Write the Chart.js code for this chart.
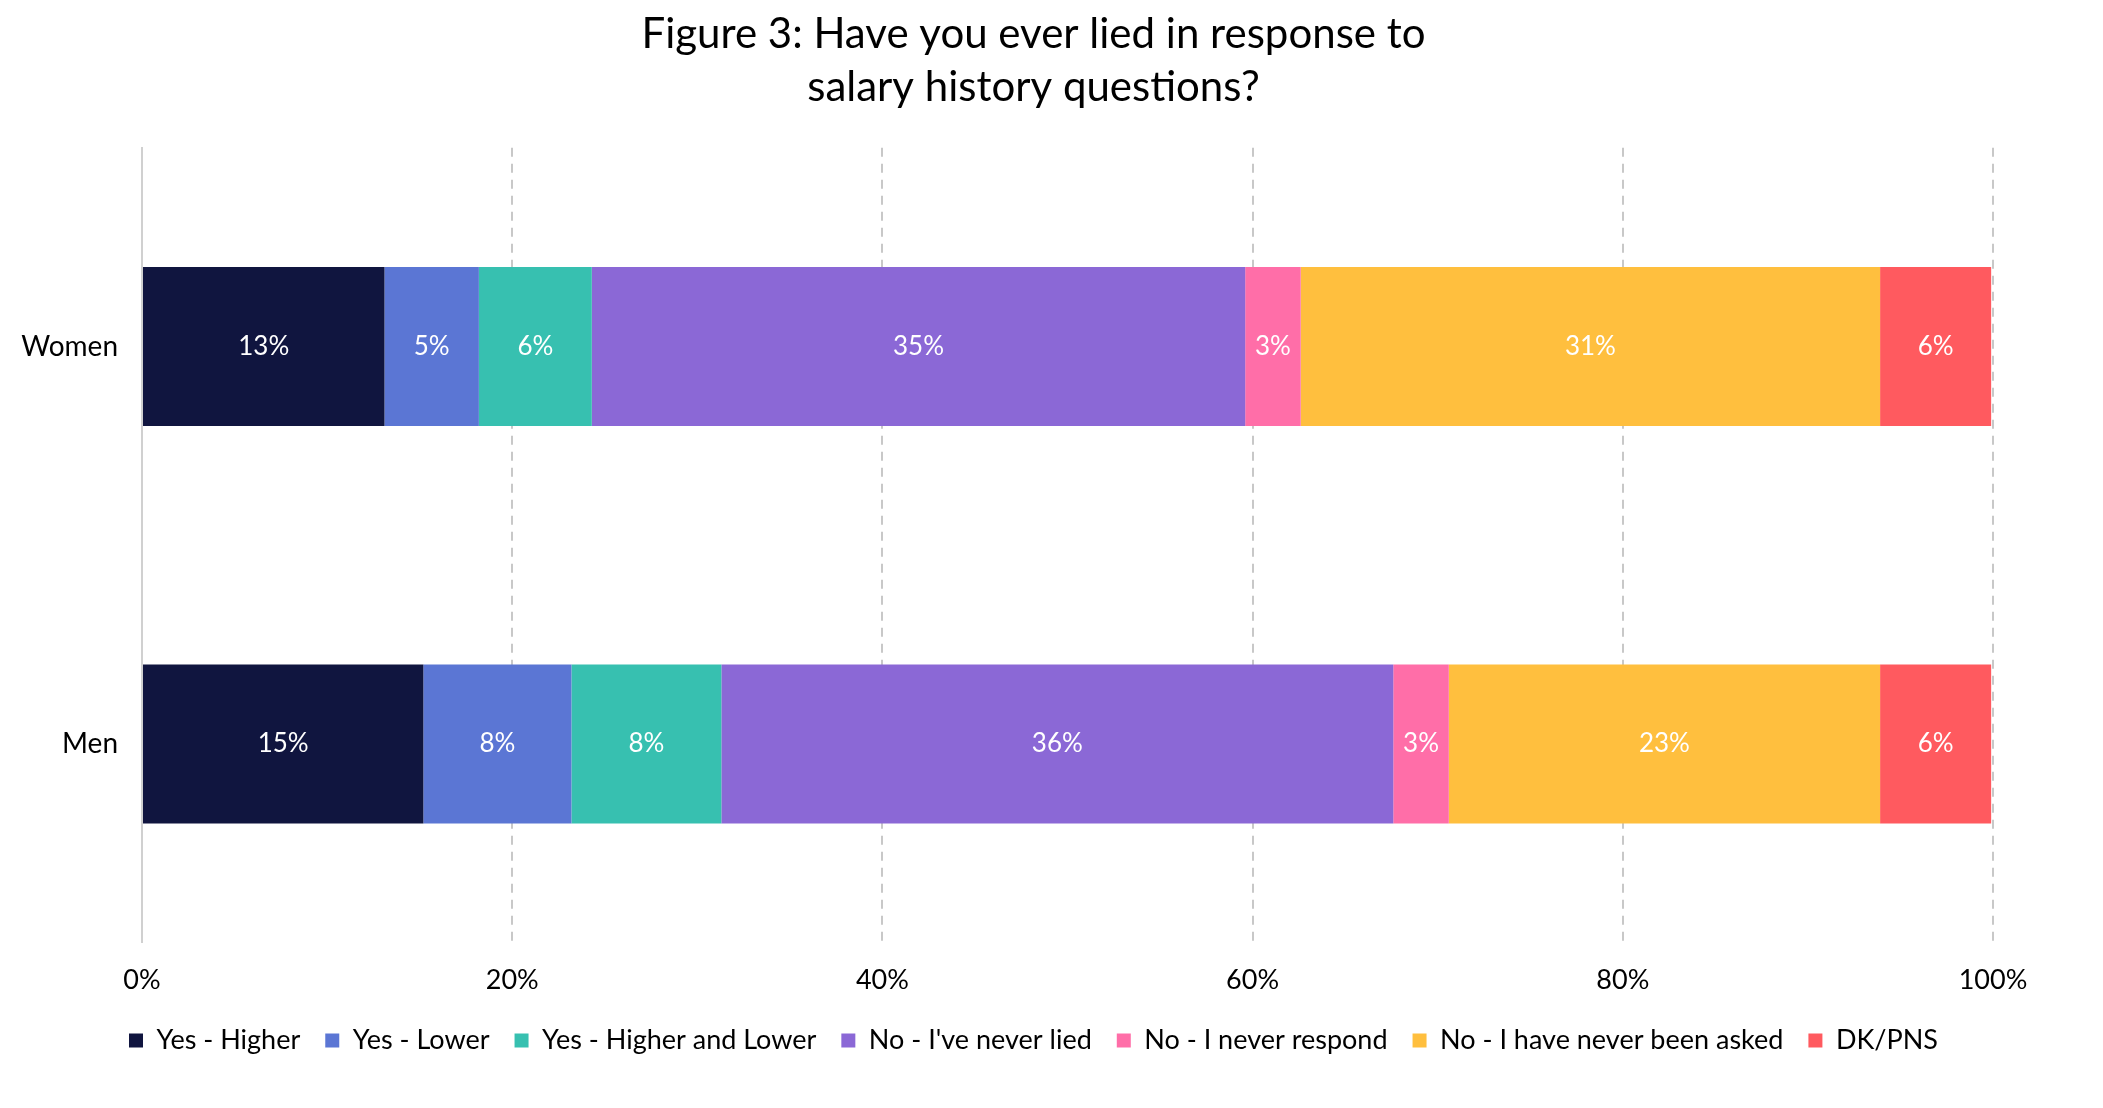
<!DOCTYPE html>
<html>
<head>
<meta charset="utf-8">
<script src="https://cdn.jsdelivr.net/npm/chart.js@4.4.0/dist/chart.umd.min.js"></script>
<style>
    html, body { margin: 0; padding: 0; background: #ffffff; }
    #wrap { width: 2103px; height: 1108px; }
</style>
</head>
<body>
<div id="wrap"><canvas id="salaryChart"></canvas></div>
<script>
var categories = ['Women', 'Men'];
var seriesNames = ['Yes - Higher', 'Yes - Lower', 'Yes - Higher and Lower', "No - I've never lied", 'No - I never respond', 'No - I have never been asked', 'DK/PNS'];
var seriesColors = ['#10153f', '#5b76d4', '#37c0b0', '#8b68d6', '#ff6ea8', '#ffbf3e', '#ff5a5f'];

// percent per series, [Women, Men]
var yesHigher = [13.1, 15.2];
var yesLower = [5.1, 8.0];
var yesBoth = [6.1, 8.1];
var neverLied = [35.3, 36.3];
var neverRespond = [3.0, 3.0];
var neverAsked = [31.3, 23.3];
var dkPns = [6.0, 6.0];
var seriesValues = [yesHigher, yesLower, yesBoth, neverLied, neverRespond, neverAsked, dkPns];

var xTicks = [0, 20, 40, 60, 80, 100];

var fontFamily = 'Lato, "Open Sans", sans-serif';

// draws the white % labels in the middle of every segment
var segmentLabels = {
    id: 'segmentLabels',
    afterDatasetsDraw: function(chart) {
        var ctx = chart.ctx;
        ctx.save();
        ctx.fillStyle = '#ffffff';
        ctx.font = '26px ' + fontFamily;
        ctx.textAlign = 'center';
        ctx.textBaseline = 'middle';
        chart.data.datasets.forEach(function(ds, i) {
            var meta = chart.getDatasetMeta(i);
            meta.data.forEach(function(bar, j) {
                var cx = (bar.x + bar.base) / 2;
                ctx.fillText(Math.round(ds.data[j]) + '%', cx, bar.y);
            });
        });
        ctx.restore();
    }
};

function buildChart() {
    var datasets = [];
    for (var i = 0; i < seriesNames.length; i++) {
        datasets.push({
            label: seriesNames[i],
            data: seriesValues[i],
            backgroundColor: seriesColors[i],
            borderWidth: 0,
            categoryPercentage: 0.8,
            barPercentage: 0.5
        });
    }

    var ctx = document.getElementById('salaryChart').getContext('2d');
    return new Chart(ctx, {
        type: 'bar',
        data: {
            labels: categories,
            datasets: datasets
        },
        plugins: [segmentLabels],
        options: {
            indexAxis: 'y',
            responsive: true,
            maintainAspectRatio: false,
            animation: false,
            devicePixelRatio: 1,
            layout: {
                padding: { left: 74, right: 110, top: 8, bottom: 44 }
            },
            scales: {
                x: {
                    stacked: true,
                    min: 0,
                    max: 100,
                    afterBuildTicks: function(axis) {
                        axis.ticks = xTicks.map(function(v) { return { value: v }; });
                    },
                    // labels keep their place, the axis just gives some room back
                    afterFit: function(axis) {
                        axis.height -= 15;
                        axis._computeLabelArea = function() { return undefined; };
                    },
                    grid: {
                        color: function(c) { return c.tick && c.tick.value === 0 ? 'rgba(0,0,0,0)' : '#c8c8c8'; },
                        lineWidth: 2,
                        drawTicks: false
                    },
                    border: { display: false, dash: [9, 7] },
                    ticks: {
                        color: '#000000',
                        font: { family: fontFamily, size: 27 },
                        padding: 21,
                        callback: function(v) { return v + '%'; }
                    }
                },
                y: {
                    stacked: true,
                    // narrow axis box so the title and legend centre like the original;
                    // labels are allowed to spill out to the left
                    afterFit: function(axis) {
                        axis.width = 68;
                        axis._computeLabelArea = function() { return undefined; };
                    },
                    grid: { display: false, drawTicks: false },
                    border: { display: true, color: '#d0d0d0', width: 2 },
                    ticks: {
                        color: '#000000',
                        font: { family: fontFamily, size: 28 },
                        padding: 24
                    }
                }
            },
            plugins: {
                title: {
                    display: true,
                    text: ['Figure 3: Have you ever lied in response to', 'salary history questions?'],
                    color: '#000000',
                    font: { family: fontFamily, size: 42, weight: 'normal', lineHeight: 1.26 },
                    padding: { top: 0, bottom: 34 }
                },
                legend: {
                    position: 'bottom',
                    labels: {
                        color: '#000000',
                        font: { family: fontFamily, size: 27 },
                        boxWidth: 14,
                        boxHeight: 14,
                        padding: 25
                    }
                },
                tooltip: { enabled: false }
            }
        }
    });
}

var salaryChart = null;
Promise.all([
    document.fonts.load('27px Lato'),
    document.fonts.load('42px Lato')
]).then(function() {
    salaryChart = buildChart();
}, function() {
    salaryChart = buildChart();
});
</script>
</body>
</html>
